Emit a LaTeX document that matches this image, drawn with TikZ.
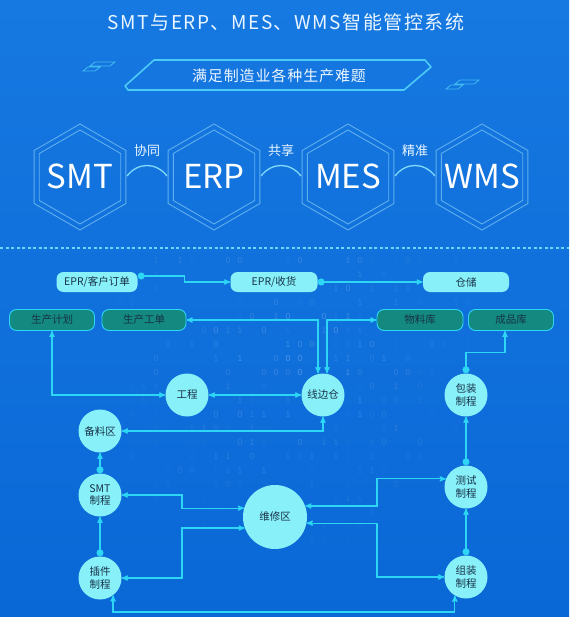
\documentclass[tikz,border=0pt]{standalone}
\usepackage{fontspec}
\setmainfont{Noto Sans CJK SC}
\usepackage{tikz}
\usetikzlibrary{arrows}

\definecolor{bgtop}{HTML}{1678E1}
\definecolor{bgbot}{HTML}{0A68D6}
\definecolor{wire}{HTML}{2CD6F4}
\definecolor{pale}{HTML}{88F0F8}
\definecolor{boxteal}{HTML}{13897F}
\definecolor{ink}{HTML}{18324A}
\definecolor{hexcol}{HTML}{72BEF2}
\definecolor{frame}{HTML}{4CCBF6}
\definecolor{snow}{HTML}{EAF6FF}

\begin{document}
\begin{tikzpicture}[x=1pt,y=-1pt,>=stealth',
    pill/.style={rectangle,rounded corners=7pt,fill=pale,text=ink,minimum height=20pt,
      inner sep=0pt,font=\fontsize{10.5}{12}\selectfont},
    store/.style={pill,fill=boxteal,draw=wire,line width=0.9pt,minimum height=21pt},
    spot/.style={circle,fill=pale,text=ink,minimum size=43pt,inner sep=0pt,align=center,
      font=\fontsize{10.5}{12.5}\selectfont},
    link/.style={draw=wire,line width=1.2pt},
    hexline/.style={draw=hexcol,line width=0.9pt,opacity=0.8},
    hextext/.style={text=white,font=\fontsize{33}{33}\selectfont},
    tag/.style={text=snow,font=\fontsize{13}{13}\selectfont},
    bit/.style={text=white,font=\fontsize{10}{10}\ttfamily,inner sep=1pt}]
  \useasboundingbox (0,0) rectangle (569,617);
  \fill[top color=bgtop,bottom color=bgbot] (0,0) rectangle (569,617);

  % falling digits, kept clear of the boxes and circles
  \pgfmathsetseed{7}
  \foreach \c in {0,...,29}{
    \foreach \r in {0,...,22}{
      \pgfmathrandominteger{\b}{0}{1}
      \pgfmathrandominteger{\k}{0}{2}
      \pgfmathsetmacro{\px}{120+12*\c}
      \pgfmathsetmacro{\py}{260+14*\r}
      \pgfmathsetmacro{\o}{max(0,0.32*rnd*(1-veclen(\px-290,\py-350)/230))}
      \pgfmathtruncatemacro{\hit}{
        (abs(\py-282)<18)*((\px>48)*(\px<146)+(\px>222)*(\px<326)+(\px>414)*(\px<518))
        +(abs(\py-320)<18)*((\px>92)*(\px<196)+(\px>368)*(\px<472))
        +(veclen(\px-187,\py-395)<31)+(veclen(\px-323,\py-395)<31)
        +(veclen(\px-100,\py-431)<31)+(veclen(\px-100,\py-495)<31)
        +(veclen(\px-100,\py-578)<31)+(veclen(\px-275,\py-517)<42)
        +(veclen(\px-466,\py-395)<31)+(veclen(\px-466,\py-487)<31)
        +(veclen(\px-466,\py-577)<31)}
      \ifnum\k>0 \ifnum\hit=0
        \node[bit,opacity=\o] (bit-\c-\r) at (\px,\py) {\b};
      \fi\fi
    }
  }

  % heading
  \node[text=snow,font=\fontsize{19}{19}\selectfont\addfontfeature{LetterSpace=8}] (title) at (286,22)
    {SMT与ERP、MES、WMS智能管控系统};
  \draw[draw=frame,line width=1.6pt,line join=round]
    (154,60) -- (425,60) -- (431,67) -- (404,90) -- (128,90) -- (125,86) -- cycle;
  \node[text=snow,font=\fontsize{15}{15}\selectfont\addfontfeature{LetterSpace=6}] (motto) at (279,76)
    {满足制造业各种生产难题};
  \draw[frame,line width=0.8pt,opacity=0.8]
    (95,62) -- (115,62) -- (110,66) -- (90,66) -- cycle
    (88,67) -- (100,67) -- (95,71) -- (83,71) -- cycle
    (460,80) -- (479,80) -- (474,84) -- (455,84) -- cycle
    (451,85) -- (463,85) -- (458,89) -- (446,89) -- cycle;

  % four systems
  \foreach \x/\t/\n in {80/SMT/hsmt,214/ERP/herp,348/MES/hmes,482/WMS/hwms}{
    \foreach \r in {53,47}
      \draw[hexline] (\x,177) +(90:\r) -- +(150:\r) -- +(210:\r) -- +(270:\r)
        -- +(330:\r) -- +(30:\r) -- cycle;
    \node[hextext] (\n) at (\x,176) {\t};
  }
  \foreach \m/\t/\n in {147/协同/tx,281/共享/gx,415/精准/jz}{
    \node[tag] (\n) at (\m,151) {\t};
    \draw[draw=frame!70!white,line width=1.3pt]
      (\m-20,176) .. controls (\m-9,162) and (\m+9,162) .. (\m+20,176);
  }
  \draw[draw=frame!80!white,line width=1.5pt,dash pattern=on 3pt off 2.5pt] (0,248) -- (569,248);

  % flow
  \node[pill,minimum width=81pt] (ord) at (97,282) {EPR/客户订单};
  \node[pill,minimum width=87pt] (rcv) at (274,282) {EPR/收货};
  \node[pill,minimum width=86pt] (wh) at (466,282) {仓储};
  \node[store,minimum width=85pt] (jh) at (52,320) {生产计划};
  \node[store,minimum width=84pt] (gd) at (144,320) {生产工单};
  \node[store,minimum width=86pt] (wl) at (420,320) {物料库};
  \node[store,minimum width=85pt] (cp) at (511,320) {成品库};

  \node[spot] (gc) at (187,395) {工程};
  \node[spot] (xb) at (323,395) {线边仓};
  \node[spot] (bl) at (100,431) {备料区};
  \node[spot] (smt) at (100,495) {SMT\\制程};
  \node[spot] (cj) at (100,578) {插件\\制程};
  \node[spot,minimum size=64pt] (wx) at (275,517) {维修区};
  \node[spot] (bz) at (466,395) {包装\\制程};
  \node[spot] (cs) at (466,487) {测试\\制程};
  \node[spot] (zz) at (466,577) {组装\\制程};

  \coordinate (lc) at (182,0);
  \coordinate (rc) at (377,0);
  \coordinate (low) at (0,612);

  \draw[link,*->] ([yshift=6pt]ord.east) -- ++(47,0) |- (rcv.west);
  \draw[link,*->] (rcv.east) -- (wh.west);
  \draw[link,<->] (gd.east) -| ([xshift=-5pt]xb.north);
  \draw[link,<->] (wl.west) -| ([xshift=4pt]xb.north);
  \draw[link,<->] (jh.south) |- (gc.west);
  \draw[link,<->] (gc) -- (xb);
  \draw[link,<->] (xb.south) |- (bl.east);
  \draw[link,*->] (smt) -- (bl);
  \draw[link,*->] (cj) -- (smt);
  \draw[link,<->] (smt.east) -- (smt.east -| lc) |- (wx.164);
  \draw[link,<->] (cj.east) -- (cj.east -| lc) |- (wx.200);
  \draw[link,<->] (wx.20) -- (wx.20 -| rc) |- (cs.158);
  \draw[link,<->] (wx.-11) -- (wx.-11 -| rc) |- (zz.west);
  \draw[link,<->] (cj.-53) -- (cj.-53 |- low) -| (zz.-121);
  \draw[link,*->] (zz) -- (cs);
  \draw[link,*->] (cs) -- (bz);
  \draw[link,*->] (bz.north) -- ++(0,-21) -| ([xshift=-6pt]cp.south);
\end{tikzpicture}
\end{document}
